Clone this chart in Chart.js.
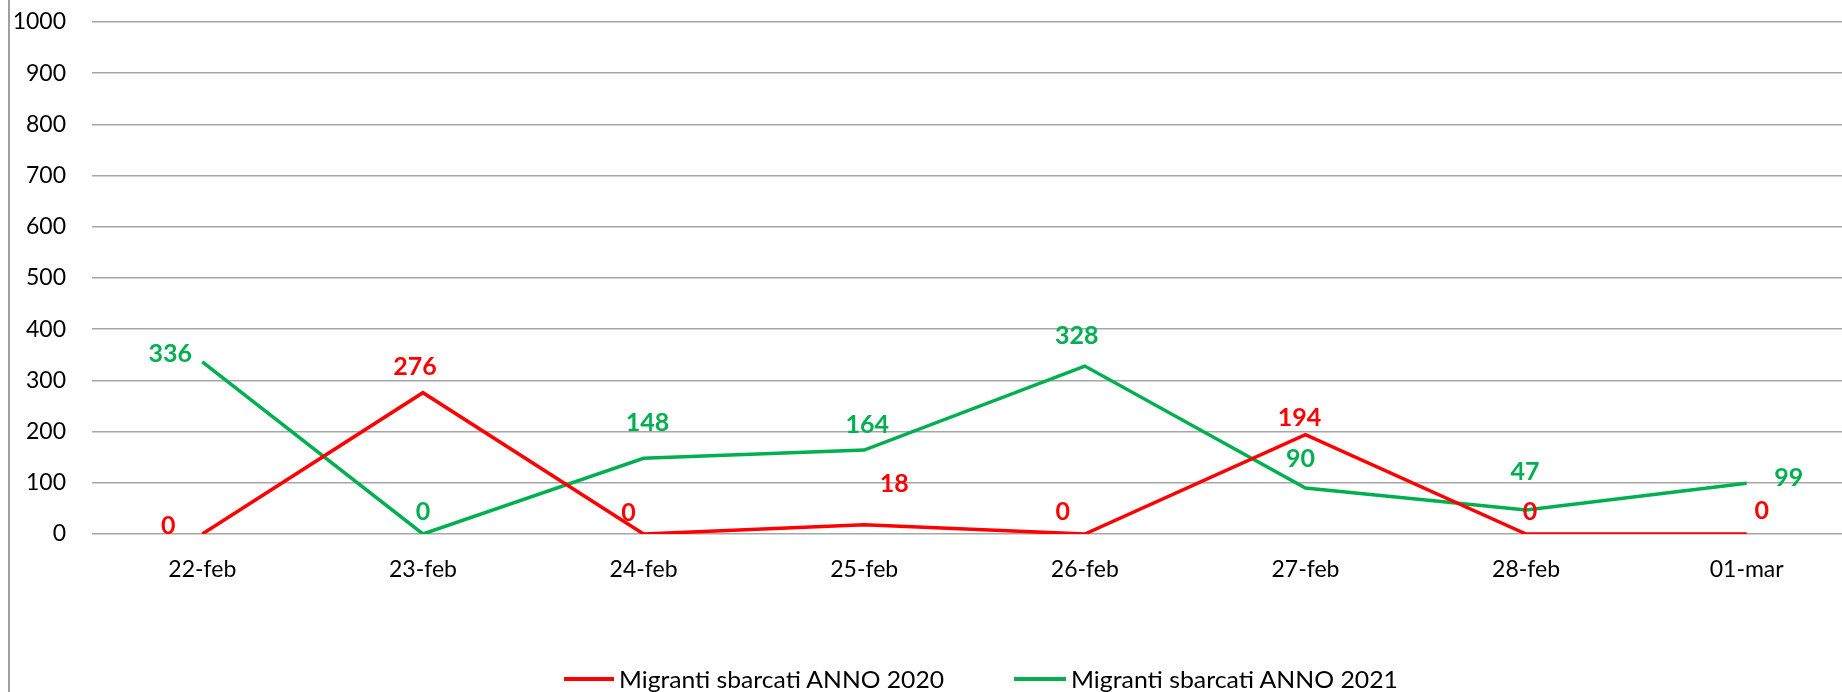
<!DOCTYPE html>
<html>
<head>
<meta charset="utf-8">
<script src="https://cdn.jsdelivr.net/npm/chart.js@4"></script>
<style>
  html, body { margin: 0; padding: 0; background: #fff; overflow: hidden; }
  #wrap { position: absolute; left: 0; top: 0; width: 1842px; height: 692px; overflow: hidden; }
  #frame { position: absolute; left: 8px; top: 0; height: 692px; border-left: 2px solid #a0a0a0; }
  canvas { position: absolute; left: 0; top: 0; }
  .leg-line { position: absolute; height: 4px; top: 677px; }
  .leg-text { position: absolute; top: 666px; font: 23px Lato, sans-serif; line-height: 26px;
              color: #000; white-space: nowrap; transform-origin: left center; }
</style>
</head>
<body>
<div id="wrap">
  <div id="frame"></div>
  <canvas id="chart" width="1857" height="692"></canvas>
  <div class="leg-line" style="left:564px; width:50px; background:#ff0000"></div>
  <div class="leg-text" id="leg1" style="left:619px">Migranti sbarcati ANNO 2020</div>
  <div class="leg-line" style="left:1014px; width:52px; background:#00b050"></div>
  <div class="leg-text" id="leg2" style="left:1071px">Migranti sbarcati ANNO 2021</div>
</div>
<script>
const categories = ["22-feb", "23-feb", "24-feb", "25-feb", "26-feb", "27-feb", "28-feb", "01-mar"];
const sbarcati2020 = [0, 276, 0, 18, 0, 194, 0, 0];
const sbarcati2021 = [336, 0, 148, 164, 328, 90, 47, 99];
const yMin = 0;
const yMax = 1000;
const yStep = 100;

// where each value label sits relative to its point (dx, dy)
const labelOffsets2020 = [[-34, -8], [-8, -26], [-15, -21], [30, -41], [-22, -22], [-6, -17], [4, -22], [15, -23]];
const labelOffsets2021 = [[-32, -8], [0, -22], [4, -35], [3, -25], [-8, -30], [-5, -29], [-1, -38], [42, -5]];

const RED = "#ff0000";
const GREEN = "#00b050";

const valueLabels = {
    id: "valueLabels",
    afterDatasetsDraw(chart) {
        const ctx = chart.ctx;
        ctx.save();
        ctx.font = "bold 25px Lato, sans-serif";
        ctx.textAlign = "center";
        ctx.textBaseline = "middle";
        chart.data.datasets.forEach(function (ds, i) {
            const meta = chart.getDatasetMeta(i);
            ctx.fillStyle = ds.borderColor;
            meta.data.forEach(function (pt, j) {
                const off = ds.labelOffsets[j];
                ctx.fillText(String(ds.data[j]), pt.x + off[0], pt.y + off[1]);
            });
        });
        ctx.restore();
    }
};

const ctx = document.getElementById("chart").getContext("2d");
new Chart(ctx, {
    type: "line",
    data: {
        labels: categories,
        datasets: [{
            label: "Migranti sbarcati ANNO 2020",
            data: sbarcati2020,
            borderColor: RED,
            backgroundColor: RED,
            borderWidth: 3.5,
            pointRadius: 0,
            tension: 0,
            fill: false,
            labelOffsets: labelOffsets2020,
        }, {
            label: "Migranti sbarcati ANNO 2021",
            data: sbarcati2021,
            borderColor: GREEN,
            backgroundColor: GREEN,
            borderWidth: 3.5,
            pointRadius: 0,
            tension: 0,
            fill: false,
            labelOffsets: labelOffsets2021,
        }],
    },
    options: {
        responsive: false,
        animation: false,
        layout: { padding: { top: 22, left: 0, right: 0, bottom: 0 } },
        plugins: {
            legend: { display: false },
            tooltip: { enabled: false },
        },
        scales: {
            x: {
                offset: true,
                grid: { display: false, drawTicks: false },
                border: { display: false },
                ticks: {
                    color: "#000",
                    font: { family: "Lato", size: 23 },
                    padding: 22,
                    maxRotation: 0,
                    autoSkip: false,
                },
                afterFit(scale) { scale.height = 158; },
            },
            y: {
                min: yMin,
                max: yMax,
                // invisible tick marks push the labels away from the plot
                grid: { color: "#a6a6a6", lineWidth: 1.5, drawTicks: true, tickLength: 26, tickColor: "rgba(0,0,0,0)" },
                border: { display: false },
                ticks: {
                    stepSize: yStep,
                    color: "#000",
                    font: { family: "Lato", size: 23 },
                    padding: 0,
                    callback: function (value) { return String(value); },
                },
                afterFit(scale) { scale.width = 92; },
            },
        },
    },
    plugins: [valueLabels],
});

// squeeze legend text to the narrow look of the original
[["leg1", 325], ["leg2", 327]].forEach(function (p) {
    const el = document.getElementById(p[0]);
    const w = el.getBoundingClientRect().width;
    el.style.transform = "scaleX(" + (p[1] / w) + ")";
});
</script>
</body>
</html>
